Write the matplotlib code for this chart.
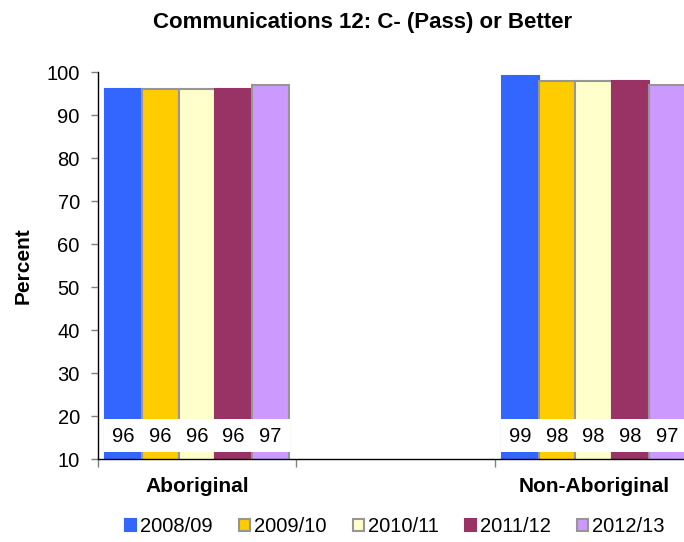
import matplotlib
matplotlib.use('Agg')
import matplotlib.pyplot as plt
import numpy as np

plt.rcParams['font.family'] = ['Liberation Sans', 'DejaVu Sans']

# middle slot left empty between the two groups
groups = ['Aboriginal', '', 'Non-Aboriginal']
years = ['2008/09', '2009/10', '2010/11', '2011/12', '2012/13']
values = {
    '2008/09': [96, None, 99],
    '2009/10': [96, None, 98],
    '2010/11': [96, None, 98],
    '2011/12': [96, None, 98],
    '2012/13': [97, None, 97],
}
colors = ['#3366FF', '#FFCC00', '#FFFFCC', '#993366', '#CC99FF']
edges = ['#3366FF', '#969696', '#969696', '#993366', '#969696']

fig = plt.figure(figsize=(6.84, 5.42), dpi=100)
ax = fig.add_axes([0.143, 0.153, 0.870, 0.714])

x = np.arange(len(groups))
bw = 0.185
for i, yr in enumerate(years):
    pos = [p + (i - 2) * bw for p, v in zip(x, values[yr]) if v is not None]
    vals = [v for v in values[yr] if v is not None]
    ax.bar(pos, vals, width=bw, color=colors[i], edgecolor=edges[i],
           linewidth=1.5, label=yr, zorder=2)
    # white label strip near the base of each bar
    ax.bar(pos, 7.7, bottom=11.6, width=bw + 0.008, color='white',
           linewidth=0, zorder=3)
    for p, v in zip(pos, vals):
        ax.text(p, 15.2, f'{v}', ha='center', va='center', fontsize=14.5,
                zorder=4)

ax.set_ylim(10, 100)
ax.set_xlim(-0.5, 2.5)
ax.set_yticks(range(10, 101, 10))
ax.set_xticks([-0.5, 0.5, 1.5, 2.5])
ax.set_xticklabels([])
ax.tick_params(axis='y', labelsize=14.5, length=5, direction='out', width=1,
               color='#808080', pad=8)
ax.tick_params(axis='x', length=6, direction='out', width=1, color='#808080')
for gx, name in zip(x, groups):
    ax.text(gx, -0.072, name, transform=ax.get_xaxis_transform(),
            ha='center', va='center', fontsize=15, fontweight='bold')

ax.spines['top'].set_visible(False)
ax.spines['right'].set_visible(False)
ax.spines['left'].set_linewidth(1)
ax.spines['bottom'].set_linewidth(1)

ax.set_ylabel('Percent', fontsize=15, fontweight='bold', labelpad=10)
fig.suptitle('Communications 12: C- (Pass) or Better', fontsize=16,
             fontweight='bold', x=0.53, y=0.978)

fig.legend(loc='center', bbox_to_anchor=(0.577, 0.028), ncol=5, frameon=False,
           fontsize=14.5, handlelength=0.55, handleheight=0.55,
           handletextpad=0.2, columnspacing=1.3)

fig.savefig('out.png', dpi=100)
